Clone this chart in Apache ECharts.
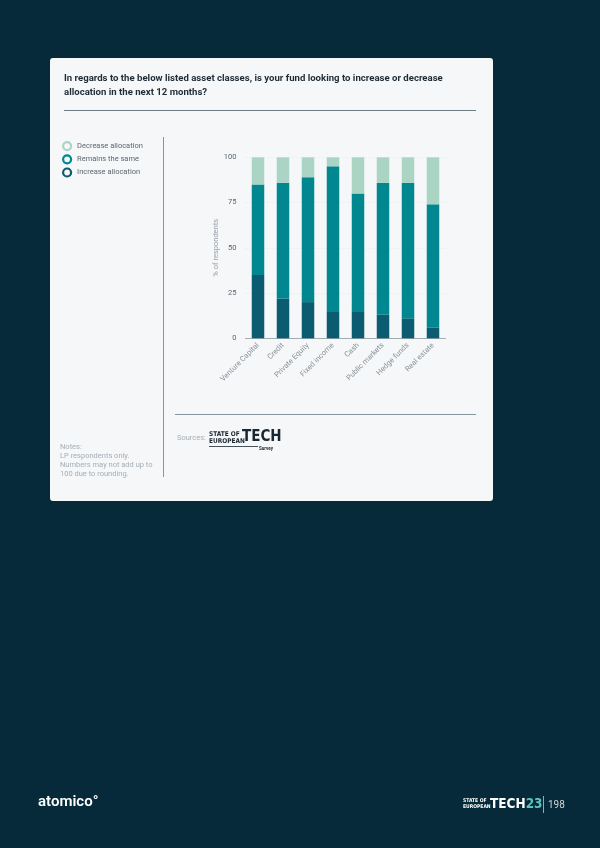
<!DOCTYPE html>
<html><head><meta charset="utf-8">
<script src="https://cdn.jsdelivr.net/npm/echarts@6/dist/echarts.min.js"></script>
<style>html,body{margin:0;padding:0;background:#062a3a;}#c{width:600px;height:848px;}</style>
</head><body><div id="c"></div>
<script>
const categories = ['Venture Capital','Credit','Private Equity','Fixed income','Cash','Public markets','Hedge funds','Real estate'];
const increaseAllocation = [35, 22, 20, 15, 15, 13, 11, 6];
const remainsSame = [50, 64, 69, 80, 65, 73, 75, 68];
const decreaseAllocation = [15, 14, 11, 5, 20, 14, 14, 26];
const yTicks = [0, 25, 50, 75, 100];

const C_DEC = '#aad4c4', C_REM = '#00878f', C_INC = '#0b5b71';
const FONT = 'Roboto, "Noto Sans", sans-serif';
const COND = '"DejaVu Sans Condensed", ' + FONT;
const chart = echarts.init(document.getElementById('c'), null, {renderer:'canvas'});

function ring(name, c){ return {name:name, itemStyle:{color:'#f5f7f9', borderColor:c, borderWidth:2.2}}; }

chart.setOption({
  backgroundColor:'#062a3a',
  animation:false,
  textStyle:{fontFamily:FONT},
  grid:{left:245.5, top:157.3, width:200, height:181},
  legend:{
    orient:'vertical', left:62, top:141, padding:0, itemWidth:8, itemHeight:8, itemGap:3,
    icon:'circle',
    textStyle:{fontSize:7.5, color:'#5c6670', fontFamily:FONT, padding:[0,0,0,1]},
    data:[ring('Decrease allocation',C_DEC), ring('Remains the same',C_REM), ring('Increase allocation',C_INC)]
  },
  xAxis:{type:'category', data:categories,
    axisLine:{lineStyle:{color:'#a3acb2', width:1}}, axisTick:{show:false},
    axisLabel:{rotate:45, fontSize:7.5, color:'#8a9297', margin:6, interval:0}},
  yAxis:{type:'value', min:yTicks[0], max:yTicks[yTicks.length-1], interval:25,
    name:'% of respondents', nameLocation:'middle', nameGap:25,
    nameTextStyle:{fontSize:7.5, color:'#9aa2a8'},
    axisLine:{show:false}, axisTick:{show:false},
    axisLabel:{fontSize:7.5, color:'#5c6670', margin:9},
    splitLine:{show:true, lineStyle:{color:'#e8ecef', type:'dashed', width:0.6}}},
  series:[
    {name:'Increase allocation', type:'bar', stack:'a', data:increaseAllocation, barWidth:12.5, itemStyle:{color:C_INC}},
    {name:'Remains the same', type:'bar', stack:'a', data:remainsSame, barWidth:12.5, itemStyle:{color:C_REM}},
    {name:'Decrease allocation', type:'bar', stack:'a', data:decreaseAllocation, barWidth:12.5, itemStyle:{color:C_DEC}}
  ],
  graphic:[
    {type:'rect', z:-10, shape:{x:50, y:58, width:443, height:443, r:3}, style:{fill:'#f5f7f9'}},
    {type:'text', left:64, top:72, style:{text:'In regards to the below listed asset classes, is your fund looking to increase or decrease\nallocation in the next 12 months?', font:'bold 9.6px '+FONT, fill:'#1f2c36', lineHeight:13.5}},
    {type:'line', shape:{x1:64, y1:110.5, x2:476, y2:110.5}, style:{stroke:'#6f7c84', lineWidth:1}},
    {type:'line', shape:{x1:163.5, y1:137, x2:163.5, y2:477}, style:{stroke:'#8a969d', lineWidth:1}},
    {type:'line', shape:{x1:175, y1:414.5, x2:476, y2:414.5}, style:{stroke:'#8a969d', lineWidth:1}},
    {type:'text', left:177, top:434, style:{text:'Sources:', font:'7.5px '+FONT, fill:'#a6aeb4'}},
    {type:'text', left:209, top:431, style:{text:'STATE OF', font:'bold 6.5px '+COND, fill:'#1a2630'}},
    {type:'text', left:209, top:438, style:{text:'EUROPEAN', font:'bold 6.5px '+COND, fill:'#1a2630'}},
    {type:'line', shape:{x1:209, y1:446.5, x2:258, y2:446.5}, style:{stroke:'#1a2630', lineWidth:0.8}},
    {type:'text', left:242, top:430, style:{text:'TECH', font:'bold 15px '+COND, fill:'#1a2630'}},
    {type:'text', left:259, top:446, style:{text:'Survey', font:'bold 4.5px '+FONT, fill:'#1a2630'}},
    {type:'text', left:60, top:443, style:{text:'Notes:\nLP respondents only.\nNumbers may not add up to\n100 due to rounding.', font:'7.5px '+FONT, fill:'#a6aeb4', lineHeight:9}},
    {type:'text', left:38, top:795, style:{text:'atomico°', font:'600 15px '+FONT, fill:'#ffffff'}},
    {type:'text', left:463, top:798, style:{text:'STATE OF', font:'bold 5px '+COND, fill:'#ffffff'}},
    {type:'text', left:463, top:804, style:{text:'EUROPEAN', font:'bold 5px '+COND, fill:'#ffffff'}},
    {type:'text', left:490, top:797, style:{text:'{a|TECH}{b|23}', rich:{a:{font:'bold 13.5px '+COND, fill:'#ffffff', color:'#ffffff'}, b:{font:'bold 13.5px '+COND, fill:'#5cc3bf', color:'#5cc3bf'}}}},
    {type:'line', shape:{x1:543.5, y1:796, x2:543.5, y2:813}, style:{stroke:'#5cc3bf', lineWidth:1}},
    {type:'text', left:548, top:800, style:{text:'198', font:'10px '+FONT, fill:'#d0d6da'}}
  ]
});
</script></body></html>
